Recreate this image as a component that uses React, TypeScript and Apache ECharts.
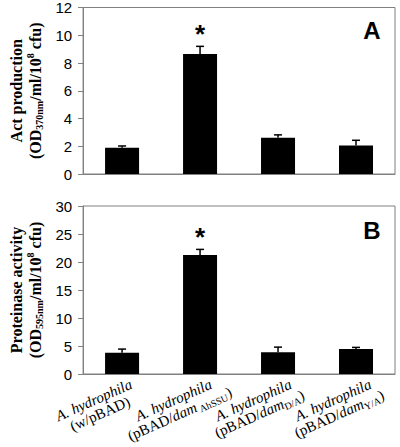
import React, { useEffect, useRef } from 'react';
import * as echarts from 'echarts';

const categories = ['A. hydrophila (w/pBAD)', 'A. hydrophila (pBAD/dam AhSSU)', 'A. hydrophila (pBAD/dam D/A)', 'A. hydrophila (pBAD/dam Y/A)'];
// each category label: first line (italic species name), second line as [text, style] pieces
const labelFirstLine = 'A. hydrophila';
const labelSecondLine: [string, string][][] = [
  [['(w/pBAD)', 'n']],
  [['(pBAD/', 'n'], ['dam', 'i'], [' AhSSU', 's'], [')', 'n']],
  [['(pBAD/', 'n'], ['dam', 'i'], ['D/A', 's'], [')', 'n']],
  [['(pBAD/', 'n'], ['dam', 'i'], ['Y/A', 's'], [')', 'n']],
];
const actValues = [1.9, 8.65, 2.62, 2.05];
const actErrors = [0.12, 0.55, 0.2, 0.38];
const proteinaseValues = [3.8, 21.25, 3.9, 4.45];
const proteinaseErrors = [0.65, 1.0, 0.9, 0.3];
const significant = [false, true, false, false];
const actAxis = { min: 0, max: 12, interval: 2 };
const proteinaseAxis = { min: 0, max: 30, interval: 5 };
const panelLetters = ['A', 'B'];
const actName = '{t|Act production}\n{t|(OD}{sub|370nm}{t|/ml/10}{sup|8}{t| cfu)}';
const proteinaseName = '{t|Proteinase activity}\n{t|(OD}{sub|595nm}{t|/ml/10}{sup|8}{t| cfu)}';

const WIDTH = 400;
const HEIGHT = 447;
const GRID_A = { left: 75, right: 5, top: 6, height: 168 };
const GRID_B = { left: 76, right: 5, top: 206, height: 168 };

const GRAY = '#808080';
const SERIF_NAME = 'Liberation Serif';
const SERIF = '"Liberation Serif", "Times New Roman", serif';
const SANS = '"Liberation Sans", Arial, sans-serif';

const nameRich = {
  t: { fontFamily: SERIF, fontWeight: 'bold', fontSize: 16, lineHeight: 19, color: '#000', align: 'center' },
  sub: { fontFamily: SERIF, fontWeight: 'bold', fontSize: 10, lineHeight: 19, verticalAlign: 'bottom', color: '#000', align: 'center' },
  sup: { fontFamily: SERIF, fontWeight: 'bold', fontSize: 10, lineHeight: 19, verticalAlign: 'top', color: '#000', align: 'center' },
};

const pieceStyles: Record<string, { fontSize: number; fontStyle: string; dy: number }> = {
  n: { fontSize: 15, fontStyle: 'normal', dy: 0 },
  i: { fontSize: 15, fontStyle: 'italic', dy: 0 },
  s: { fontSize: 10, fontStyle: 'normal', dy: 4 },
};

function yAxisFor(gridIndex: number, range: any, name: string) {
  return {
    type: 'value',
    gridIndex,
    min: range.min,
    max: range.max,
    interval: range.interval,
    name,
    nameLocation: 'middle',
    nameRotate: 90,
    nameGap: 36,
    nameTextStyle: { rich: nameRich },
    splitLine: { show: false },
    axisLine: { show: true, lineStyle: { color: GRAY, width: 1 } },
    axisTick: { show: true, inside: false, length: 5, lineStyle: { color: GRAY } },
    axisLabel: { fontFamily: SANS, fontSize: 15, color: '#000', margin: 11 },
  };
}

function errorSeries(values: number[], errors: number[], axisIndex: number) {
  return {
    type: 'custom',
    xAxisIndex: axisIndex,
    yAxisIndex: axisIndex,
    z: 5,
    data: values.map((v, i) => [i, v, v + errors[i], significant[i] ? 1 : 0]),
    renderItem: (params: any, api: any) => {
      const idx = api.value(0);
      const low = api.coord([idx, api.value(1)]);
      const high = api.coord([idx, api.value(2)]);
      const children: any[] = [
        { type: 'line', shape: { x1: low[0], y1: low[1], x2: high[0], y2: high[1] }, style: { stroke: '#000', lineWidth: 1.5 } },
        { type: 'line', shape: { x1: high[0] - 4, y1: high[1], x2: high[0] + 4, y2: high[1] }, style: { stroke: '#000', lineWidth: 1.5 } },
      ];
      if (api.value(3)) {
        children.push({
          type: 'text',
          x: high[0],
          y: high[1] - 12,
          style: { text: '*', fontSize: 26, fontWeight: 'bold', fontFamily: SANS, fill: '#000', align: 'center', verticalAlign: 'middle' },
        });
      }
      return { type: 'group', children };
    },
  };
}

function buildLabelGraphics() {
  const ctx = document.createElement('canvas').getContext('2d')!;
  const widthOf = (text: string, k: string) => {
    ctx.font = `${pieceStyles[k].fontStyle} ${pieceStyles[k].fontSize}px "${SERIF_NAME}"`;
    return ctx.measureText(text).width;
  };
  const theta = (24 * Math.PI) / 180;
  const cos = Math.cos(theta);
  const sin = Math.sin(theta);
  const plotW = WIDTH - GRID_B.left - GRID_B.right;
  const bandW = plotW / categories.length;
  const axisY = GRID_B.top + GRID_B.height;
  const out: any[] = [];
  categories.forEach((_c, i) => {
    const cx = GRID_B.left + bandW * (i + 0.5) - 19;
    const cy = axisY + 33;
    const place = (lx: number, ly: number, text: string, k: string) => {
      out.push({
        type: 'text',
        x: cx + lx * cos + ly * sin,
        y: cy - lx * sin + ly * cos,
        rotation: theta,
        style: {
          text,
          fontFamily: SERIF,
          fontSize: pieceStyles[k].fontSize,
          fontStyle: pieceStyles[k].fontStyle,
          fill: '#000',
          align: 'center',
          verticalAlign: 'middle',
        },
      });
    };
    place(0, -7.5, labelFirstLine, 'i');
    const pieces = labelSecondLine[i];
    const widths = pieces.map(([t, k]) => widthOf(t, k));
    const total = widths.reduce((a, b) => a + b, 0);
    let lx = -total / 2;
    pieces.forEach(([t, k], j) => {
      place(lx + widths[j] / 2, 7.5 + pieceStyles[k].dy, t, k);
      lx += widths[j];
    });
  });
  return out;
}

export default function App() {
  const ref = useRef<HTMLDivElement>(null);
  useEffect(() => {
    if (!ref.current) return;
    const chart = echarts.init(ref.current, null, { renderer: 'svg' });
    chart.setOption({
      animation: false,
      backgroundColor: '#fff',
      grid: [
        { ...GRID_A, show: true, borderColor: GRAY, borderWidth: 1 },
        { ...GRID_B, show: true, borderColor: GRAY, borderWidth: 1 },
      ],
      xAxis: [
        {
          type: 'category', gridIndex: 0, data: categories,
          axisLine: { lineStyle: { color: GRAY } }, axisTick: { show: false }, axisLabel: { show: false },
        },
        {
          type: 'category', gridIndex: 1, data: categories,
          axisLine: { lineStyle: { color: GRAY } }, axisTick: { show: false }, axisLabel: { show: false },
        },
      ],
      yAxis: [yAxisFor(0, actAxis, actName), yAxisFor(1, proteinaseAxis, proteinaseName)],
      graphic: [
        { type: 'text', x: WIDTH - GRID_A.right - 23, y: GRID_A.top + 24, style: { text: panelLetters[0], fontFamily: SANS, fontWeight: 'bold', fontSize: 24, fill: '#000', align: 'center', verticalAlign: 'middle' } },
        { type: 'text', x: WIDTH - GRID_B.right - 23, y: GRID_B.top + 24, style: { text: panelLetters[1], fontFamily: SANS, fontWeight: 'bold', fontSize: 24, fill: '#000', align: 'center', verticalAlign: 'middle' } },
        ...buildLabelGraphics(),
      ],
      series: [
        { type: 'bar', xAxisIndex: 0, yAxisIndex: 0, data: actValues, barWidth: 34, itemStyle: { color: '#000' } },
        errorSeries(actValues, actErrors, 0),
        { type: 'bar', xAxisIndex: 1, yAxisIndex: 1, data: proteinaseValues, barWidth: 34, itemStyle: { color: '#000' } },
        errorSeries(proteinaseValues, proteinaseErrors, 1),
      ],
    });
    return () => chart.dispose();
  }, []);
  return <div ref={ref} style={{ position: 'absolute', left: 0, top: 0, width: WIDTH, height: HEIGHT }} />;
}
